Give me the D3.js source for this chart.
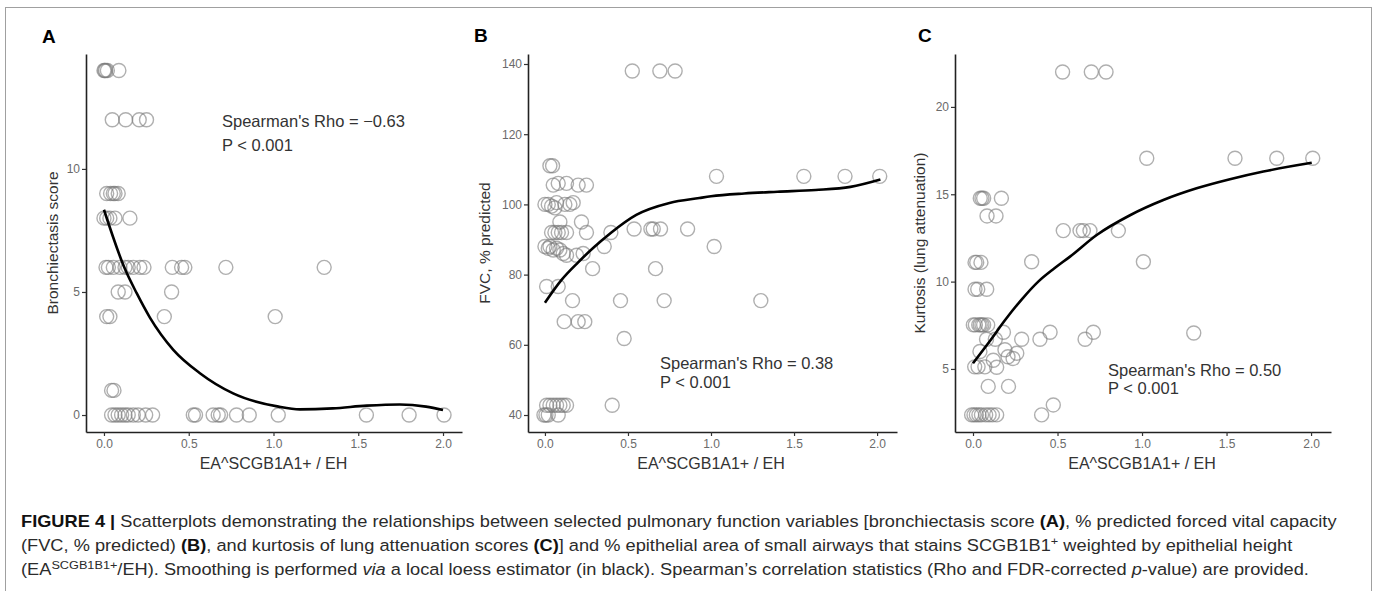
<!DOCTYPE html>
<html>
<head>
<meta charset="utf-8">
<script src="https://cdn.jsdelivr.net/npm/d3@7"></script>
<style>
body { margin: 0; background: #fff; }
text { font-family: "Liberation Sans", Arial, sans-serif; }
</style>
</head>
<body>
<svg id="fig"></svg>
<script>
// values
var xTicks = [0, 0.5, 1, 1.5, 2]
var xTitle = "EA^SCGB1A1+ / EH"

// A: bronchiectasis score
var bronchTicks = [0, 5, 10]
var bronchPoints = [
    [0, 14], [0.005, 14], [0.01, 14], [0.02, 14], [0.088, 14],
    [0.049, 12], [0.128, 12], [0.208, 12], [0.251, 12],
    [0.016, 9], [0.039, 9], [0.055, 9], [0.065, 9], [0.084, 9],
    [0, 8], [0.016, 8], [0.035, 8], [0.065, 8], [0.153, 8],
    [0.012, 6], [0.026, 6], [0.055, 6], [0.094, 6], [0.124, 6], [0.143, 6], [0.173, 6],
    [0.212, 6], [0.236, 6], [0.403, 6], [0.458, 6], [0.477, 6], [0.719, 6], [1.299, 6],
    [0.084, 5], [0.124, 5], [0.399, 5],
    [0.016, 4], [0.035, 4], [0.356, 4], [1.01, 4],
    [0.045, 1], [0.059, 1],
    [0.045, 0], [0.065, 0], [0.084, 0], [0.104, 0], [0.124, 0], [0.143, 0], [0.173, 0],
    [0.202, 0], [0.246, 0], [0.287, 0], [0.527, 0], [0.54, 0], [0.644, 0], [0.674, 0],
    [0.688, 0], [0.782, 0], [0.857, 0], [1.028, 0], [1.548, 0], [1.8, 0], [2.006, 0]
]
var bronchLoess = [
    [0, 8.34], [0.124, 5.93], [0.193, 4.95], [0.271, 3.96], [0.409, 2.65], [0.566, 1.7],
    [0.762, 0.88], [1.03, 0.34], [1.155, 0.23], [1.35, 0.27], [1.55, 0.38], [1.745, 0.43],
    [1.9, 0.34], [2.0, 0.2]
]

// B: FVC % predicted
var fvcTicks = [40, 60, 80, 100, 120, 140]
var fvcPoints = [
    [0.526, 138], [0.692, 138], [0.784, 138],
    [0.03, 111], [0.046, 111],
    [1.033, 108], [1.559, 108], [1.807, 108], [2.016, 108],
    [0.05, 105.5], [0.08, 106], [0.13, 106], [0.2, 105.5], [0.25, 105.5],
    [0, 100], [0.02, 100], [0.04, 99.5], [0.06, 99], [0.07, 100.5], [0.12, 100], [0.15, 100], [0.17, 100.5],
    [0.09, 95], [0.22, 95],
    [0.04, 92], [0.06, 92], [0.08, 92], [0.1, 92], [0.13, 92], [0.25, 92], [0.397, 92],
    [0.537, 93], [0.638, 93], [0.652, 93], [0.696, 93], [0.859, 93],
    [0, 88], [0.02, 87.5], [0.03, 88], [0.05, 87], [0.07, 87.5], [0.09, 87], [0.357, 88], [1.019, 88],
    [0.11, 86], [0.13, 85.5], [0.19, 85.5], [0.23, 86],
    [0.287, 81.7], [0.666, 81.7],
    [0.01, 76.6], [0.08, 76.6],
    [0.166, 72.6], [0.455, 72.6], [0.718, 72.6], [1.3, 72.6],
    [0.116, 66.6], [0.2, 66.6], [0.24, 66.6],
    [0.477, 61.8],
    [0.01, 42.8], [0.03, 42.8], [0.05, 42.8], [0.07, 42.8], [0.09, 42.8], [0.11, 42.8], [0.13, 42.8], [0.405, 42.8],
    [-0.006, 40], [0.006, 40], [0.02, 40], [0.08, 40]
]
var fvcLoess = [
    [0, 72], [0.1, 78.5], [0.2, 83.5], [0.3, 88], [0.4, 92], [0.55, 97], [0.75, 100.4],
    [0.93, 101.8], [1.0, 102.3], [1.2, 103.1], [1.4, 103.6], [1.63, 104.1], [1.84, 105], [2.02, 107.1]
]

// C: kurtosis
var kurtTicks = [5, 10, 15, 20]
var kurtPoints = [
    [0.53, 22], [0.7, 22], [0.787, 22],
    [1.028, 17.06], [1.55, 17.06], [1.797, 17.06], [2.01, 17.06],
    [0.043, 14.77], [0.053, 14.77], [0.063, 14.77], [0.168, 14.77],
    [0.083, 13.76], [0.136, 13.76],
    [0.534, 12.92], [0.633, 12.92], [0.653, 12.92], [0.692, 12.92], [0.86, 12.92],
    [0.012, 11.1], [0.022, 11.1], [0.047, 11.1], [0.347, 11.14], [1.008, 11.14],
    [0.012, 9.56], [0.028, 9.56], [0.081, 9.56],
    [0.002, 7.52], [0.014, 7.52], [0.034, 7.52], [0.043, 7.52], [0.053, 7.52], [0.063, 7.52], [0.087, 7.52],
    [0.18, 7.1], [0.456, 7.1], [0.712, 7.1], [1.306, 7.06],
    [0.08, 6.7], [0.132, 6.7], [0.288, 6.7], [0.396, 6.7], [0.663, 6.7],
    [0.041, 6.0], [0.189, 6.1], [0.259, 5.9], [0.12, 5.5], [0.207, 5.7], [0.237, 5.6],
    [0.01, 5.12], [0.03, 5.12], [0.07, 5.12], [0.14, 5.1],
    [0.09, 4.0], [0.21, 4.0],
    [0.475, 2.94],
    [-0.008, 2.37], [0.006, 2.37], [0.02, 2.37], [0.035, 2.37], [0.05, 2.37], [0.075, 2.37],
    [0.095, 2.37], [0.115, 2.37], [0.14, 2.37], [0.406, 2.37]
]
var kurtLoess = [
    [0, 5.33], [0.1, 6.6], [0.19, 7.8], [0.29, 9.0], [0.386, 10.0], [0.48, 10.75], [0.574, 11.43],
    [0.732, 12.67], [0.929, 13.8], [1.126, 14.67], [1.323, 15.34], [1.52, 15.86], [1.718, 16.3], [2.004, 16.8]
]

var dimensions = { width: 1375, height: 591, textStretch: 1.105 }

var panels = [
    { label: "A", labelX: 42, labelY: 43, yTitle: "Bronchiectasis score", titleOffset: 28,
      left: 86, right: 462, top: 54, bottom: 432,
      xDomain: [-0.106, 2.112], yDomain: [-0.69, 14.67],
      ticks: bronchTicks, points: bronchPoints, loess: bronchLoess,
      stat: ["Spearman's Rho = \u22120.63", "P < 0.001"], statX: 222, statY: [127, 151] },
    { label: "B", labelX: 474, labelY: 42, yTitle: "FVC, % predicted", titleOffset: 38,
      left: 528, right: 897, top: 54, bottom: 432,
      xDomain: [-0.102, 2.12], yDomain: [35.16, 142.85],
      ticks: fvcTicks, points: fvcPoints, loess: fvcLoess,
      stat: ["Spearman's Rho = 0.38", "P < 0.001"], statX: 660, statY: [369, 388] },
    { label: "C", labelX: 918, labelY: 42, yTitle: "Kurtosis (lung attenuation)", titleOffset: 30,
      left: 955, right: 1331, top: 54, bottom: 432,
      xDomain: [-0.1065, 2.118], yDomain: [1.39, 23.03],
      ticks: kurtTicks, points: kurtPoints, loess: kurtLoess,
      stat: ["Spearman's Rho = 0.50", "P < 0.001"], statX: 1108, statY: [376, 394] }
]

var svg = d3.select("#fig")
    .attr("width", dimensions.width)
    .attr("height", dimensions.height)

svg.append("rect")
    .attr("x", 0).attr("y", 0)
    .attr("width", dimensions.width).attr("height", dimensions.height)
    .attr("fill", "#fff")

// figure frame (runs off the bottom of the crop)
svg.append("rect")
    .attr("x", 5.5).attr("y", 7.5)
    .attr("width", 1366).attr("height", 620)
    .attr("fill", "none")
    .attr("stroke", "#a0a0a0")
    .attr("stroke-width", 1)

panels.forEach(function (p) {
    var xScale = d3.scaleLinear().domain(p.xDomain).range([p.left, p.right])
    var yScale = d3.scaleLinear().domain(p.yDomain).range([p.bottom, p.top])
    var g = svg.append("g")

    g.append("text")
        .attr("x", p.labelX).attr("y", p.labelY)
        .style("font-size", "19px").style("font-weight", "bold")
        .attr("fill", "#000")
        .text(p.label)

    g.append("g")
        .selectAll("circle")
        .data(p.points)
        .enter()
        .append("circle")
        .attr("cx", d => xScale(d[0]))
        .attr("cy", d => yScale(d[1]))
        .attr("r", 7)
        .attr("fill", "none")
        .attr("stroke", "#7a7a7a")
        .attr("stroke-opacity", 0.6)
        .attr("stroke-width", 1.4)

    var line = d3.line()
        .x(d => xScale(d[0]))
        .y(d => yScale(d[1]))
        .curve(d3.curveMonotoneX)
    g.append("path")
        .datum(p.loess)
        .attr("d", line)
        .attr("fill", "none")
        .attr("stroke", "#000")
        .attr("stroke-width", 2.6)

    var xAxis = g.append("g")
        .attr("transform", `translate(0,${p.bottom})`)
        .call(d3.axisBottom(xScale).tickValues(xTicks).tickFormat(d3.format(".1f"))
            .tickSize(4).tickSizeOuter(0).tickPadding(3))
    var yAxis = g.append("g")
        .attr("transform", `translate(${p.left},0)`)
        .call(d3.axisLeft(yScale).tickValues(p.ticks)
            .tickSize(4).tickSizeOuter(0).tickPadding(2))

    ;[xAxis, yAxis].forEach(function (ax) {
        ax.select(".domain").attr("stroke", "#222").attr("stroke-width", 1.6)
        ax.selectAll(".tick line").attr("stroke", "#333").attr("stroke-width", 1.2)
        ax.selectAll(".tick text")
            .attr("fill", "#6a6a6a")
            .style("font-size", "12px")
            .style("font-family", '"Liberation Sans", Arial, sans-serif')
    })

    g.append("text")
        .attr("x", xScale(1)).attr("y", 469)
        .attr("text-anchor", "middle")
        .style("font-size", "16px")
        .attr("fill", "#333")
        .text(xTitle)

    g.append("text")
        .attr("transform", `translate(${p.left - p.titleOffset},${(p.top + p.bottom) / 2}) rotate(-90)`)
        .attr("text-anchor", "middle")
        .style("font-size", "15.5px")
        .attr("fill", "#333")
        .text(p.yTitle)

    p.stat.forEach(function (s, i) {
        g.append("text")
            .attr("x", p.statX).attr("y", p.statY[i])
            .style("font-size", "16.5px")
            .attr("fill", "#333")
            .text(s)
    })
})

// caption
var captionLines = [
    [["b", "FIGURE 4 |"], ["", " Scatterplots demonstrating the relationships between selected pulmonary function variables [bronchiectasis score "], ["b", "(A)"], ["", ", % predicted forced vital capacity"]],
    [["", "(FVC, % predicted) "], ["b", "(B)"], ["", ", and kurtosis of lung attenuation scores "], ["b", "(C)"], ["", "] and % epithelial area of small airways that stains SCGB1B1"], ["sup", "+"], ["", " weighted by epithelial height"]],
    [["", "(EA"], ["sup", "SCGB1B1+"], ["", "/EH). Smoothing is performed "], ["i", "via"], ["", " a local loess estimator (in black). Spearman\u2019s correlation statistics (Rho and FDR-corrected "], ["i", "p"], ["", "-value) are provided."]]
]
var captionY = [527, 551, 575]

var caption = svg.append("g")
    .attr("transform", `translate(21,0) scale(${dimensions.textStretch},1)`)

captionLines.forEach(function (parts, li) {
    var t = caption.append("text")
        .attr("x", 0).attr("y", captionY[li])
        .style("font-size", "16.5px")
        .attr("fill", "#2b2b2b")
    parts.forEach(function (part, i) {
        var ts = t.append("tspan").text(part[1])
        if (part[0] === "b") ts.style("font-weight", "bold").attr("fill", "#111")
        if (part[0] === "i") ts.style("font-style", "italic")
        if (part[0] === "sup") ts.style("font-size", "11.5px").attr("dy", -6)
        if (i > 0 && parts[i - 1][0] === "sup" && part[0] !== "sup") ts.attr("dy", 6)
    })
})
</script>
</body>
</html>
